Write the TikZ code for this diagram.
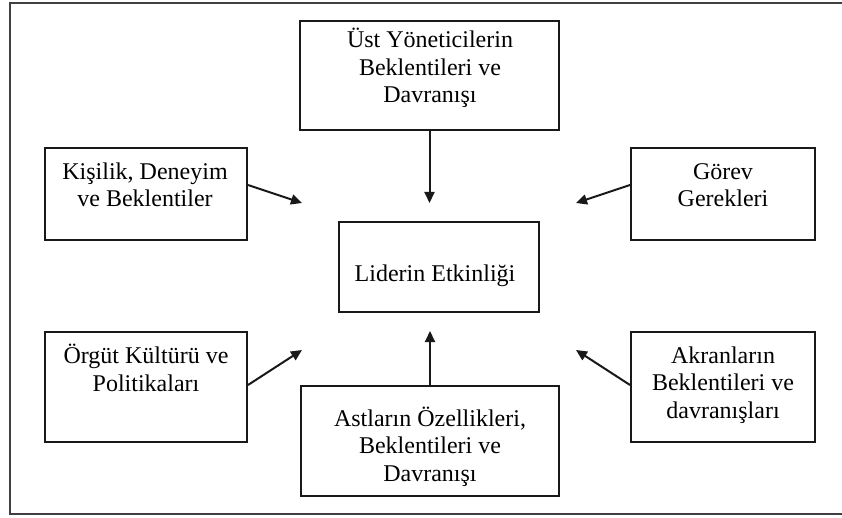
\documentclass[tikz,border=0pt]{standalone}
\usepackage{fontspec}
\setmainfont{Liberation Serif}
\usetikzlibrary{arrows.meta}
\begin{document}
\begin{tikzpicture}[x=1pt,y=-1pt,
  box/.style={draw=black!90, line width=2pt, inner sep=0pt},
  txt/.style={align=center, font=\fontsize{24}{27.5}\selectfont, inner sep=0pt, anchor=base, text=black},
  arr/.style={draw=black!90, line width=2pt, -{Triangle[length=11pt,width=10pt]}},
  frame/.style={draw=black!75, line width=1.5pt}]
\useasboundingbox (0,0) rectangle (842,518);
% outer frame
\draw[frame] (846,3) -- (10,3) -- (10,514) -- (846,514);
% boxes
\node[box, minimum width=259pt, minimum height=109pt] (top) at (429.5,75.5) {};
\node[box, minimum width=202pt, minimum height=92pt] (kis) at (146,194) {};
\node[box, minimum width=184pt, minimum height=92pt] (gor) at (723,194) {};
\node[box, minimum width=200pt, minimum height=90pt] (cen) at (439,267) {};
\node[box, minimum width=202pt, minimum height=110pt] (org) at (146,387) {};
\node[box, minimum width=258pt, minimum height=110pt] (ast) at (430,441) {};
\node[box, minimum width=184pt, minimum height=110pt] (akr) at (723,387) {};
% texts (base anchor = baseline of last line)
\node[txt] (ttop) at (430,103) {Üst Yöneticilerin\\Beklentileri ve\\Davranışı};
\node[txt] (tkis) at (145,207) {Kişilik, Deneyim\\ve Beklentiler};
\node[txt] (tgor) at (723,207) {Görev\\Gerekleri};
\node[txt] (tcen) at (435,281) {Liderin Etkinliği};
\node[txt] (torg) at (146,391) {Örgüt Kültürü ve\\Politikaları};
\node[txt] (tast) at (430,481) {Astların Özellikleri,\\Beklentileri ve\\Davranışı};
\node[txt] (takr) at (723,418) {Akranların\\Beklentileri ve\\davranışları};
% arrow targets
\coordinate (ptop) at (429.5,203);
\coordinate (pkis) at (302,203);
\coordinate (pgor) at (576,203);
\coordinate (porg) at (302,350);
\coordinate (past) at (430,331);
\coordinate (pakr) at (576,350);
% arrows
\draw[arr] (top.south) -- (ptop);
\draw[arr] ([yshift=9pt]kis.east) -- (pkis);
\draw[arr] ([yshift=9pt]gor.west) -- (pgor);
\draw[arr] ([yshift=2pt]org.east) -- (porg);
\draw[arr] (ast.north) -- (past);
\draw[arr] ([yshift=2pt]akr.west) -- (pakr);
\end{tikzpicture}
\end{document}
